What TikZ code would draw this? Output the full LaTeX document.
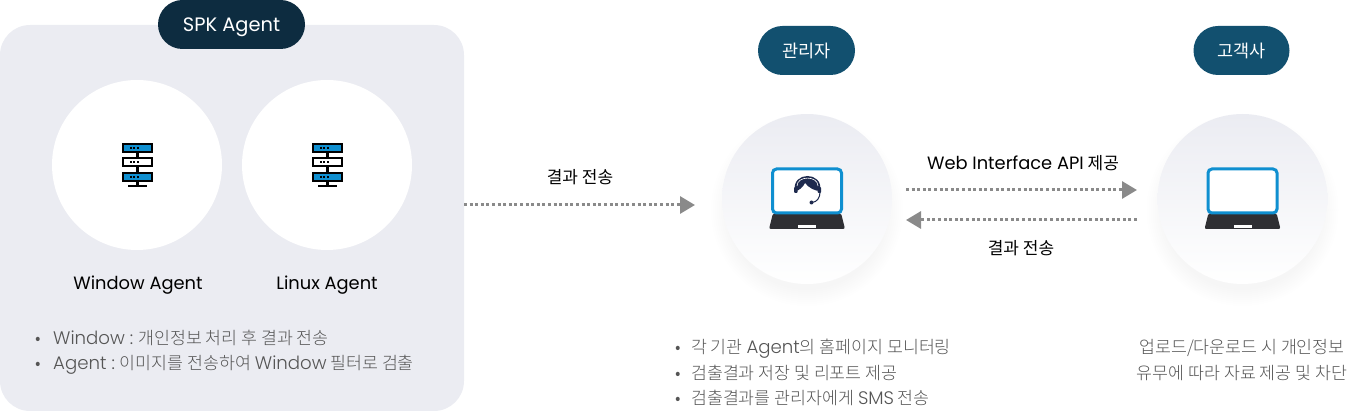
\documentclass[tikz,border=0pt]{standalone}
\usepackage{fontspec}
\setmainfont{Noto Sans CJK KR}
\newfontfamily\lat[Scale=1.05]{Poppins}
\newfontfamily\latlight[Scale=1.05]{Poppins Light}
\newfontfamily\krlight{Noto Sans CJK KR Light}
\usetikzlibrary{arrows.meta}
\definecolor{panelgray}{HTML}{EBECF2}
\definecolor{pilldark}{HTML}{0D2C40}
\definecolor{pillblue}{HTML}{12506F}
\definecolor{iconblue}{HTML}{0F8FD0}
\definecolor{icondark}{HTML}{2F2F33}
\definecolor{headnavy}{HTML}{1E2A4E}
\definecolor{textgray}{HTML}{555555}
\definecolor{arrowgray}{HTML}{8A8A8A}
\tikzset{
  pill/.style={rounded corners=24.5pt, minimum height=49pt, text=white, font=\fontsize{17.5}{17.5}\selectfont, inner sep=0pt, text height=18pt, text depth=4pt},
  roundbox/.style={circle, minimum size=170pt, inner sep=0pt, top color=panelgray, bottom color=white},
  whitebox/.style={circle, minimum size=170pt, inner sep=0pt, fill=white},
  caption/.style={font=\fontsize{17}{17}\selectfont, text=black, text height=18pt, text depth=4pt, inner sep=0pt},
  flowlabel/.style={font=\fontsize{17}{17}\selectfont, text=black, text height=18pt, text depth=4pt, inner sep=0pt},
  bulletline/.style={anchor=west, inner sep=0pt, font=\krlight\fontsize{17.3}{17.3}\selectfont, text=textgray, text height=18pt, text depth=4pt},
  centerline/.style={inner sep=0pt, font=\krlight\fontsize{17.3}{17.3}\selectfont, text=textgray, text height=18pt, text depth=4pt},
  flow/.style={draw=arrowgray, line width=3pt, dash pattern=on 3pt off 2.6pt, -{Triangle[length=15pt,width=17pt,fill=arrowgray]}},
  servericon/.pic={
    \foreach \y/\c in {-20/iconblue, -6/white, 9/iconblue} {
      \draw[line width=2.2pt, fill=\c] (-14.5,\y) rectangle (14.5,\y+8);
      \foreach \d in {-8,-4.5,-1} \fill[black] (\d,\y+3) rectangle (\d+2,\y+5);
    }
    \draw[line width=2.2pt] (0,-12) -- (0,-6) (0,2) -- (0,9) (0,17) -- (0,22);
    \draw[line width=2.2pt] (-9.5,22) -- (9.5,22);
  },
  laptopicon/.pic={
    \fill[icondark, rounded corners=2pt] (-34,14) -- (34,14) -- (38,30) -- (-38,30) -- cycle;
    \fill[white] (-9,26) rectangle (9,29);
    \draw[iconblue, line width=3pt, fill=white, rounded corners=4pt] (-34.5,-30) rectangle (34.5,14);
  },
  softshadow/.pic={
    \foreach \r in {80,82,...,96} \fill[black, opacity=0.005] (0,11) circle (\r pt);
  },
}
\begin{document}
\begin{tikzpicture}[x=1pt, y=-1pt]
  \useasboundingbox (0,0) rectangle (1348,411);
  % left panel
  \fill[panelgray, rounded corners=30pt] (0,25) rectangle (464,411);
  \node[pill, fill=pilldark, minimum width=147pt, font=\fontsize{18.5}{18.5}\selectfont] (spk) at (231.5,24.5) {\lat SPK Agent};
  \node[whitebox] (window) at (137,165) {};
  \node[whitebox] (linux) at (327,165) {};
  \pic at (137.5,164) {servericon};
  \pic at (327.5,164) {servericon};
  \node[caption] (windowname) at (138,283) {\lat Window Agent};
  \node[caption] (linuxname) at (327,283) {\lat Linux Agent};
  \node[bulletline] (l1) at (35,337) {•\hspace{12.5pt}{\latlight Window :} 개인정보 처리 후 결과 전송};
  \node[bulletline] (l2) at (35,362) {•\hspace{12.5pt}{\latlight Agent :} 이미지를 전송하여 {\latlight Window} 필터로 검출};
  % manager and customer
  \node[pill, fill=pillblue, minimum width=97pt] (admin) at (806.5,50.5) {관리자};
  \node[pill, fill=pillblue, minimum width=96pt] (customer) at (1241.5,50.5) {고객사};
  \pic at (807,199) {softshadow};
  \pic at (1242.5,199) {softshadow};
  \node[roundbox] (adminpc) at (807,199) {};
  \node[roundbox] (customerpc) at (1242.5,199) {};
  \pic at (807,199) {laptopicon};
  \pic at (1242.5,199) {laptopicon};
  % headset
  \fill[headnavy] (795,191) .. controls (791,171) and (824,171) .. (820,191) .. controls (815,191) and (809,188) .. (805,183) .. controls (803,187) and (799,191) .. (795,191) -- cycle;
  \draw[white, line width=0.6pt] (797,186) .. controls (797,175.5) and (818,175.5) .. (818,186);
  \fill[headnavy, rounded corners=1pt] (794,187) rectangle (797.5,193);
  \fill[headnavy, rounded corners=1pt] (817.5,187) rectangle (821,193);
  \draw[headnavy, line width=1pt] (820,192) .. controls (820,198) and (817,202) .. (812,202.5);
  \fill[headnavy] (811.5,202.5) circle (2pt);
  % arrows
  \coordinate (sendfrom) at (464,205);
  \coordinate (sendto) at (695,205);
  \coordinate (apifrom) at (906,190);
  \coordinate (apito) at (1137,190);
  \coordinate (backfrom) at (1137,220);
  \coordinate (backto) at (906,220);
  \draw[flow] (sendfrom) -- (sendto);
  \draw[flow] (apifrom) -- (apito);
  \draw[flow] (backfrom) -- (backto);
  \node[flowlabel] (sendlabel) at (580,177) {결과 전송};
  \node[flowlabel] (apilabel) at (1023,163) {{\lat Web Interface API} 제공};
  \node[flowlabel] (backlabel) at (1021,248) {결과 전송};
  % lists
  \node[bulletline] (m1) at (675,346) {•\hspace{10.5pt}각 기관 {\latlight Agent}의 홈페이지 모니터링};
  \node[bulletline] (m2) at (675,372) {•\hspace{10.5pt}검출결과 저장 및 리포트 제공};
  \node[bulletline] (m3) at (675,397) {•\hspace{10.5pt}검출결과를 관리자에게 {\latlight SMS} 전송};
  \node[centerline] (r1) at (1242,346) {업로드/다운로드 시 개인정보};
  \node[centerline] (r2) at (1242,372) {유무에 따라 자료 제공 및 차단};
\end{tikzpicture}
\end{document}
